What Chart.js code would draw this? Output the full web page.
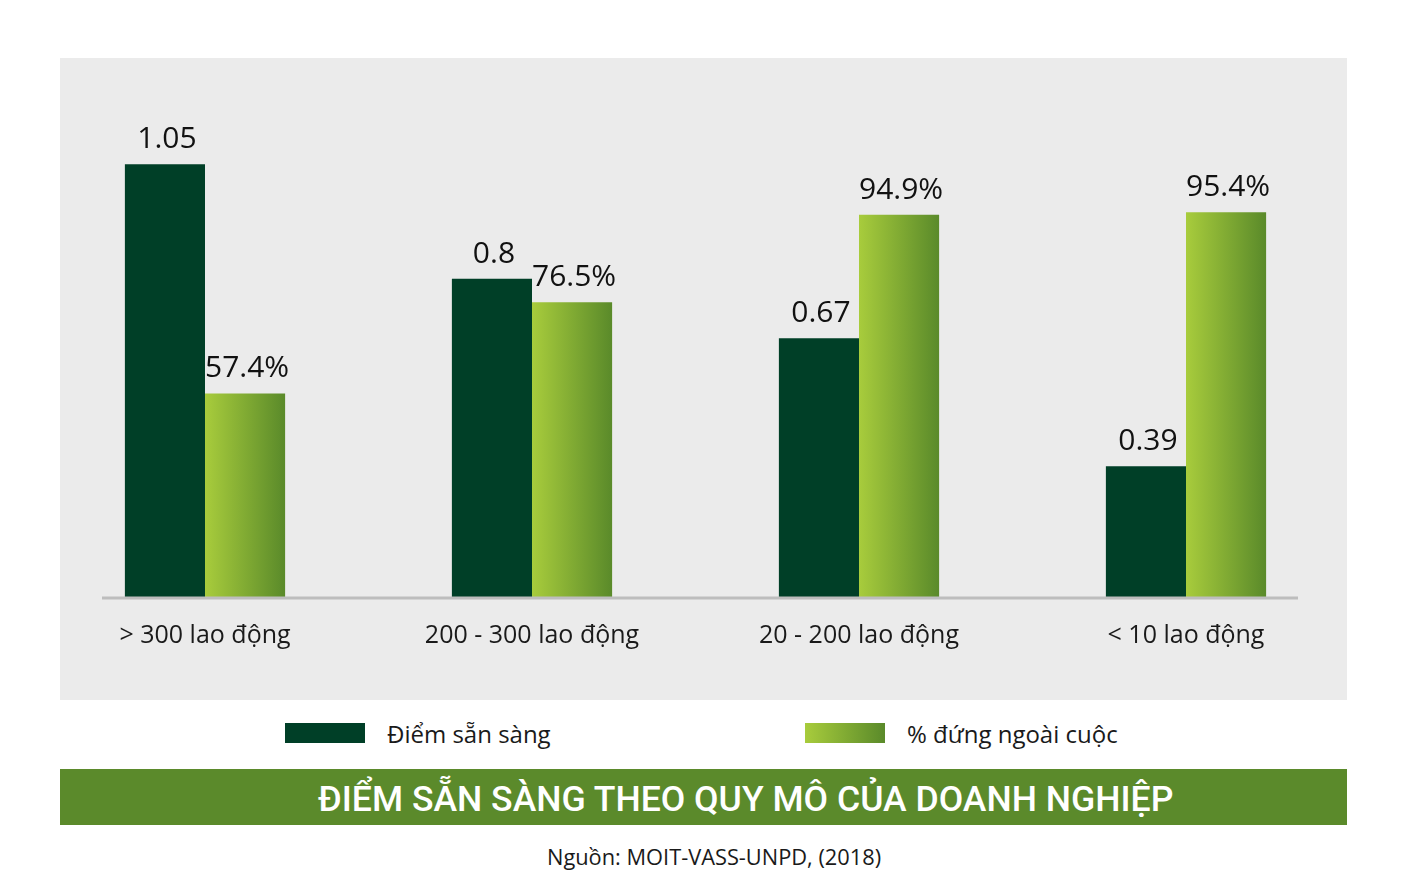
<!DOCTYPE html>
<html lang="vi">
<head>
<meta charset="utf-8">
<script src="https://cdn.jsdelivr.net/npm/chart.js@4"></script>
<style>
  html,body{margin:0;padding:0;background:#fff;}
  body{width:1403px;height:895px;position:relative;overflow:hidden;font-family:"Open Sans",sans-serif;}
  #wrap{position:absolute;left:0;top:0;width:1403px;height:700px;}
  .legend{position:absolute;top:716px;height:34px;display:flex;align-items:center;font-size:24px;color:#1a1a1a;white-space:nowrap;}
  .sw{width:80px;height:20px;margin-right:22px;}
  #title{position:absolute;left:60px;top:769px;width:1287px;height:56px;background:#5b8a2b;color:#fff;box-sizing:border-box;padding-left:258px;
    font-family:Roboto,sans-serif;font-weight:500;font-size:35.6px;line-height:60px;text-align:left;white-space:nowrap;}
  #src{position:absolute;left:547px;top:842px;font-size:21.8px;color:#1a1a1a;white-space:nowrap;}
</style>
</head>
<body>
<div id="wrap"><canvas id="c"></canvas></div>
<div class="legend" style="left:285px"><div class="sw" style="background:#003f27"></div><span>Điểm sẵn sàng</span></div>
<div class="legend" style="left:805px"><div class="sw" style="background:linear-gradient(to right,#a8cc3c,#5a8a2a)"></div><span>% đứng ngoài cuộc</span></div>
<div id="title">ĐIỂM SẴN SÀNG THEO QUY MÔ CỦA DOANH NGHIỆP</div>
<div id="src">Nguồn: MOIT-VASS-UNPD, (2018)</div>
<script>
const categories = ["> 300 lao động", "200 - 300 lao động", "20 - 200 lao động", "< 10 lao động"];
const seriesNames = ["Điểm sẵn sàng", "% đứng ngoài cuộc"];
const readiness = [1.05, 0.8, 0.67, 0.39];
const outsidePct = [57.4, 76.5, 94.9, 95.4];

const DARK = "#003f27";
const LIGHT_L = "#a8cc3c", LIGHT_R = "#5a8a2a";

const panelPlugin = {
  id: "panel",
  beforeDraw(chart) {
    const c = chart.ctx;
    c.save();
    c.fillStyle = "#ebebeb";
    c.fillRect(60, 58, 1287, 642);
    c.restore();
  }
};

const gradPlugin = {
  id: "grad",
  beforeDatasetsDraw(chart) {
    const meta = chart.getDatasetMeta(1);
    const c = chart.ctx;
    meta.data.forEach(el => {
      const l = el.x - el.width / 2, r = el.x + el.width / 2;
      const g = c.createLinearGradient(l, 0, r, 0);
      g.addColorStop(0, LIGHT_L);
      g.addColorStop(1, LIGHT_R);
      el.options = Object.assign({}, el.options, { backgroundColor: g });
    });
  }
};

const baselinePlugin = {
  id: "baseline",
  afterDatasetsDraw(chart) {
    const a = chart.chartArea, c = chart.ctx;
    c.save();
    c.strokeStyle = "#bdbdbd";
    c.lineWidth = 3;
    c.beginPath();
    c.moveTo(a.left + 60.5, a.bottom + 0.5);
    c.lineTo(a.right - 51.5, a.bottom + 0.5);
    c.stroke();
    c.restore();
  }
};

const labelPlugin = {
  id: "vlabels",
  afterDatasetsDraw(chart) {
    const c = chart.ctx;
    c.save();
    c.font = "30px 'Open Sans'";
    c.fillStyle = "#111";
    c.textAlign = "center";
    c.textBaseline = "alphabetic";
    chart.data.datasets.forEach((ds, di) => {
      chart.getDatasetMeta(di).data.forEach((el, i) => {
        const v = ds.data[i];
        const txt = di === 0 ? String(v) : v.toFixed(1) + "%";
        c.fillText(txt, el.x + 2, el.y - 16);
      });
    });
    c.restore();
  }
};

new Chart(document.getElementById("c"), {
  type: "bar",
  data: {
    labels: categories,
    datasets: [
      { label: seriesNames[0], data: readiness, backgroundColor: DARK, yAxisID: "y",
        categoryPercentage: 0.49, barPercentage: 1.0 },
      { label: seriesNames[1], data: outsidePct, backgroundColor: LIGHT_R, yAxisID: "y2",
        categoryPercentage: 0.49, barPercentage: 1.0 }
    ]
  },
  options: {
    responsive: true,
    maintainAspectRatio: false,
    animation: false,
    layout: { padding: { left: 41.5, right: 53.5, top: 130, bottom: 0 } },
    plugins: { legend: { display: false }, tooltip: { enabled: false }, title: { display: false } },
    scales: {
      x: {
        grid: { display: false, drawTicks: false },
        border: { display: false },
        ticks: { color: "#1a1a1a", font: { family: "'Open Sans'", size: 25 }, padding: 23 },
        afterFit(s) { s.height = 102.5; }
      },
      y: { display: false, min: 0.103, max: 1.125 },
      y2: { display: false, min: 14.6, max: 112.65 }
    }
  },
  plugins: [panelPlugin, gradPlugin, baselinePlugin, labelPlugin]
});
</script>
</body>
</html>
